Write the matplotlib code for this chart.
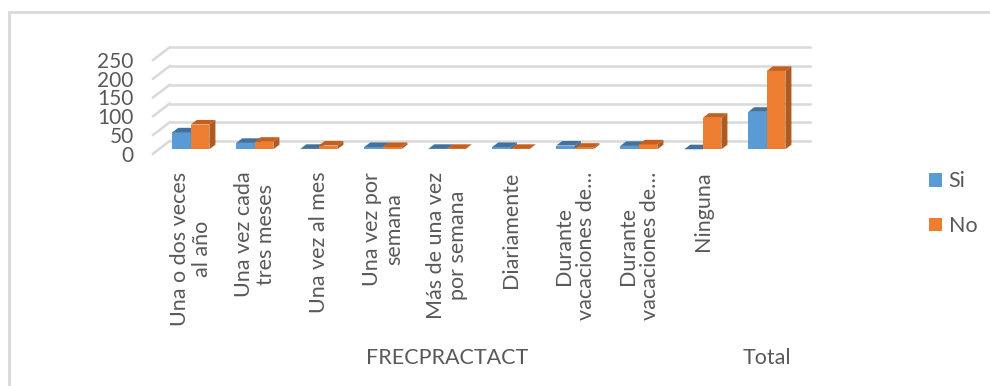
import matplotlib.pyplot as plt
from matplotlib.patches import Polygon, Patch, Rectangle
import numpy as np

plt.rcParams['font.family'] = ['Lato', 'DejaVu Sans']

# datos
categorias = ['Una o dos veces\nal año', 'Una vez cada\ntres meses', 'Una vez al mes',
              'Una vez por\nsemana', 'Más de una vez\npor semana', 'Diariamente',
              'Durante\nvacaciones de…', 'Durante\nvacaciones de…', 'Ninguna', '']
si = [45, 17, 1, 6, 1, 6, 10, 9, 0, 100]
no = [66, 20, 10, 6, 1, 1, 4, 13, 84, 209]
series = ['Si', 'No']
y_ticks = [0, 50, 100, 150, 200, 250]

azul, naranja = '#5B9BD5', '#ED7D31'
azul_top, naranja_top = '#41719C', '#C65F1B'
azul_lado, naranja_lado = '#3E6C95', '#AE5A21'
gris = '#595959'

W, H = 990, 386
fig = plt.figure(figsize=(W / 100, H / 100), dpi=100)

# marco exterior (solo se ven el borde izquierdo y superior)
fig.patches.append(Rectangle((8.5 / W, -0.1), 1.2, (H - 12) / H + 0.1, transform=fig.transFigure,
                             fill=False, edgecolor='#D9D9D9', lw=2, zorder=0))

# plano frontal: x 153..793 px, y 0 -> 153.7 px, 250 -> 60 px (desde arriba)
ax = fig.add_axes([153 / W, (H - 153.7) / H, 640 / W, 93.7 / H])
ax.set_xlim(-0.5, 9.5)
ax.set_ylim(0, 250)

px_x = 640 / 10          # px por categoria
px_y = 93.7 / 250        # px por unidad
DX = 16.7 / px_x         # profundidad total del piso
DY = 12.7 / px_y

# rejilla en la pared del fondo + pared lateral
for v in y_ticks:
    ax.plot([-0.5 + DX, 9.5 + DX], [v + DY, v + DY], color='#D9D9D9', lw=1.8, clip_on=False, zorder=1)
    ax.plot([-0.5, -0.5 + DX], [v, v + DY], color='#D9D9D9', lw=1.8, clip_on=False, zorder=1)

# barras 3D
w = 0.29
f0, fd = 0.35, 0.36
bx, by = f0 * DX, f0 * DY
ddx, ddy = fd * DX, fd * DY
x = np.arange(len(categorias))

estilos = [(si, azul, azul_top, azul_lado), (no, naranja, naranja_top, naranja_lado)]
for i in range(len(categorias)):
    for j, (vals, c, ct, cl) in enumerate(estilos):
        x0 = x[i] - w + j * w + bx
        h = vals[i]
        z = 3 + i * 2 + j * 0.5
        ax.bar(x0, h, width=w, bottom=by, align='edge', color=c, clip_on=False, zorder=z)
        top = [(x0, by + h), (x0 + w, by + h), (x0 + w + ddx, by + h + ddy), (x0 + ddx, by + h + ddy)]
        lado = [(x0 + w, by), (x0 + w + ddx, by + ddy), (x0 + w + ddx, by + h + ddy), (x0 + w, by + h)]
        ax.add_patch(Polygon(top, closed=True, facecolor=ct, edgecolor='none', clip_on=False, zorder=z))
        ax.add_patch(Polygon(lado, closed=True, facecolor=cl, edgecolor='none', clip_on=False, zorder=z))

for s in ax.spines.values():
    s.set_visible(False)

ax.set_yticks(y_ticks)
ax.set_yticklabels([str(v) for v in y_ticks], fontsize=15, color=gris)
ax.tick_params(axis='y', length=0, pad=14)

ax.set_xticks(x + bx)
ax.set_xticklabels(categorias, rotation=90, fontsize=15.5, color=gris,
                   multialignment='center', linespacing=1.15)
ax.tick_params(axis='x', length=0, pad=13)

# etiquetas de grupo
trans = ax.get_xaxis_transform()
ax.text(4 + bx, -(358 - 153.7) / 93.7, 'FRECPRACTACT', transform=trans, ha='center', va='center',
        fontsize=15.5, color=gris)
ax.text(9 + bx, -(358 - 153.7) / 93.7, 'Total', transform=trans, ha='center', va='center',
        fontsize=15.5, color=gris)

# leyenda
handles = [Patch(facecolor=azul), Patch(facecolor=naranja)]
fig.legend(handles, series, loc='upper left', bbox_to_anchor=(910 / W, (H - 152) / H),
           frameon=False, fontsize=15.5, labelcolor=gris, handlelength=0.6, handleheight=0.6,
           handletextpad=0.3, labelspacing=1.15)

plt.savefig('out.png', dpi=100)
